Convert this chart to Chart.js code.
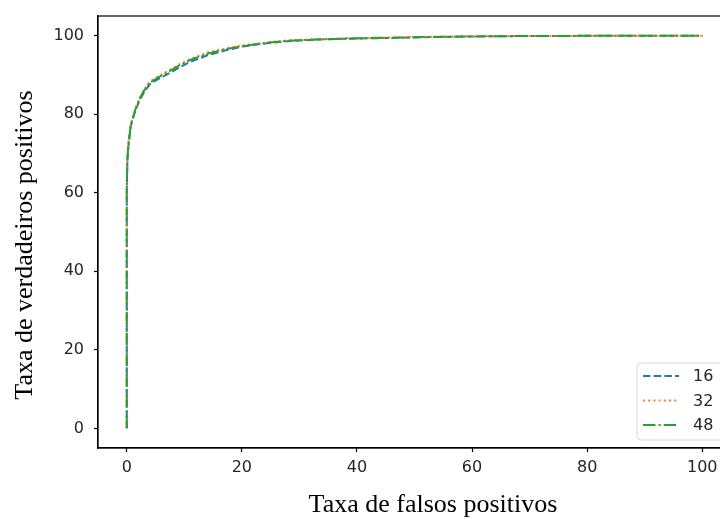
<!DOCTYPE html>
<html>
<head>
<meta charset="utf-8">
<script src="https://cdn.jsdelivr.net/npm/chart.js@4"></script>
<style>
    html, body { margin: 0; padding: 0; background: #fff; overflow: hidden; }
    #wrap { width: 740px; height: 519px; }
</style>
</head>
<body>
<div id="wrap"><canvas id="rocChart" width="740" height="519"></canvas></div>
<script>
// taxa de falsos positivos (%)
const fpr = [0, 0, 0, 0.1, 0.3, 0.7, 1.5, 2.2, 3, 4, 5.5, 7.5, 9, 11, 14, 17, 20, 24, 28, 33, 38, 45, 52, 60, 70, 80, 90, 100];
// taxa de verdadeiros positivos (%) por configuração
const tpr16 = [0, 30, 60, 68, 72, 77, 81, 83.4, 85.6, 87.6, 89, 90.5, 91.8, 93.3, 95, 96.2, 97.2, 98, 98.6, 99, 99.2, 99.4, 99.6, 99.8, 99.9, 99.95, 100, 100];
const tpr32 = [0, 32, 61, 69, 73, 77.5, 81.5, 84, 86.3, 88.3, 89.7, 91.3, 92.6, 94, 95.7, 96.7, 97.5, 98.2, 98.8, 99.1, 99.3, 99.5, 99.7, 99.85, 99.9, 99.95, 100, 100];
const tpr48 = [0, 31, 60.5, 68.5, 72.5, 77.2, 81.2, 83.8, 86, 88, 89.4, 91, 92.3, 93.8, 95.4, 96.5, 97.3, 98.1, 98.7, 99, 99.25, 99.45, 99.65, 99.8, 99.9, 99.95, 100, 100];
const seriesLabels = ['16', '32', '48'];
const xTicks = [0, 20, 40, 60, 80, 100];
const yTicks = [0, 20, 40, 60, 80, 100];

const tickFont = { family: 'DejaVu Sans', size: 16 };
const tickColor = '#262626';

function toPoints(ys) {
    return ys.map((y, i) => ({ x: fpr[i], y: y }));
}

// moldura do eixo + títulos + legenda no estilo matplotlib
const framePlugin = {
    id: 'frame',
    afterDraw(chart) {
        const { ctx, chartArea: a } = chart;
        ctx.save();
        ctx.strokeStyle = '#000';
        ctx.lineWidth = 1.2;
        ctx.strokeRect(a.left, a.top, a.right - a.left, a.bottom - a.top);

        // títulos dos eixos
        ctx.fillStyle = '#000';
        ctx.font = '26px "Liberation Serif"';
        ctx.textAlign = 'center';
        ctx.textBaseline = 'alphabetic';
        ctx.fillText('Taxa de falsos positivos', 433, 512);
        ctx.translate(32, 245);
        ctx.rotate(-Math.PI / 2);
        ctx.fillText('Taxa de verdadeiros positivos', 0, 0);
        ctx.restore();

        // legenda
        ctx.save();
        ctx.globalAlpha = 0.85;
        ctx.fillStyle = '#fff';
        ctx.strokeStyle = '#d0d0d0';
        ctx.lineWidth = 1;
        ctx.beginPath();
        ctx.roundRect(637, 363, 88, 77, 4);
        ctx.fill();
        ctx.stroke();
        ctx.globalAlpha = 1;
        const rows = [376, 400.5, 425];
        chart.data.datasets.forEach((ds, i) => {
            ctx.strokeStyle = ds.borderColor;
            ctx.lineWidth = ds.borderWidth;
            ctx.setLineDash(ds.borderDash);
            ctx.beginPath();
            ctx.moveTo(643, rows[i]);
            ctx.lineTo(679, rows[i]);
            ctx.stroke();
            ctx.setLineDash([]);
            ctx.fillStyle = tickColor;
            ctx.font = '16px "DejaVu Sans"';
            ctx.textAlign = 'left';
            ctx.textBaseline = 'middle';
            ctx.fillText(ds.label, 693, rows[i] + 1);
        });
        ctx.restore();
    }
};

const ctx = document.getElementById('rocChart').getContext('2d');
const rocChart = new Chart(ctx, {
    type: 'line',
    data: {
        datasets: [
            { label: seriesLabels[0], data: toPoints(tpr16), borderColor: '#1f77b4', borderDash: [7.5, 3.2], order: 2 },
            { label: seriesLabels[1], data: toPoints(tpr32), borderColor: '#ff7f0e', borderDash: [2, 3.2], order: 1 },
            { label: seriesLabels[2], data: toPoints(tpr48), borderColor: '#2ca02c', borderDash: [12.5, 3.1, 2, 3.1], order: 0 }
        ].map(ds => ({ ...ds, borderWidth: 2, pointRadius: 0, fill: false, tension: 0 }))
    },
    options: {
        responsive: false,
        animation: false,
        layout: { padding: { top: 16, right: 9, left: 0, bottom: 0 } },
        plugins: {
            legend: { display: false },
            tooltip: { enabled: false }
        },
        scales: {
            x: {
                type: 'linear',
                min: -5,
                max: 105,
                afterBuildTicks: scale => { scale.ticks = xTicks.map(v => ({ value: v })); },
                afterFit: scale => { scale.height = 71; scale.paddingLeft = 0; scale.paddingRight = 0; },
                ticks: { font: tickFont, color: tickColor, padding: 6, maxRotation: 0, callback: v => String(v) },
                grid: { drawOnChartArea: false, tickLength: 4, color: '#000', tickWidth: 1.2 },
                border: { display: true, color: '#000', width: 1.2 }
            },
            y: {
                type: 'linear',
                min: -5,
                max: 105,
                afterBuildTicks: scale => { scale.ticks = yTicks.map(v => ({ value: v })); },
                afterFit: scale => { scale.width = 98; scale.paddingTop = 0; scale.paddingBottom = 0; },
                ticks: { font: tickFont, color: tickColor, padding: 10, callback: v => String(v) },
                grid: { drawOnChartArea: false, tickLength: 4, color: '#000', tickWidth: 1.2 },
                border: { display: true, color: '#000', width: 1.2 }
            }
        }
    },
    plugins: [framePlugin]
});
</script>
</body>
</html>
